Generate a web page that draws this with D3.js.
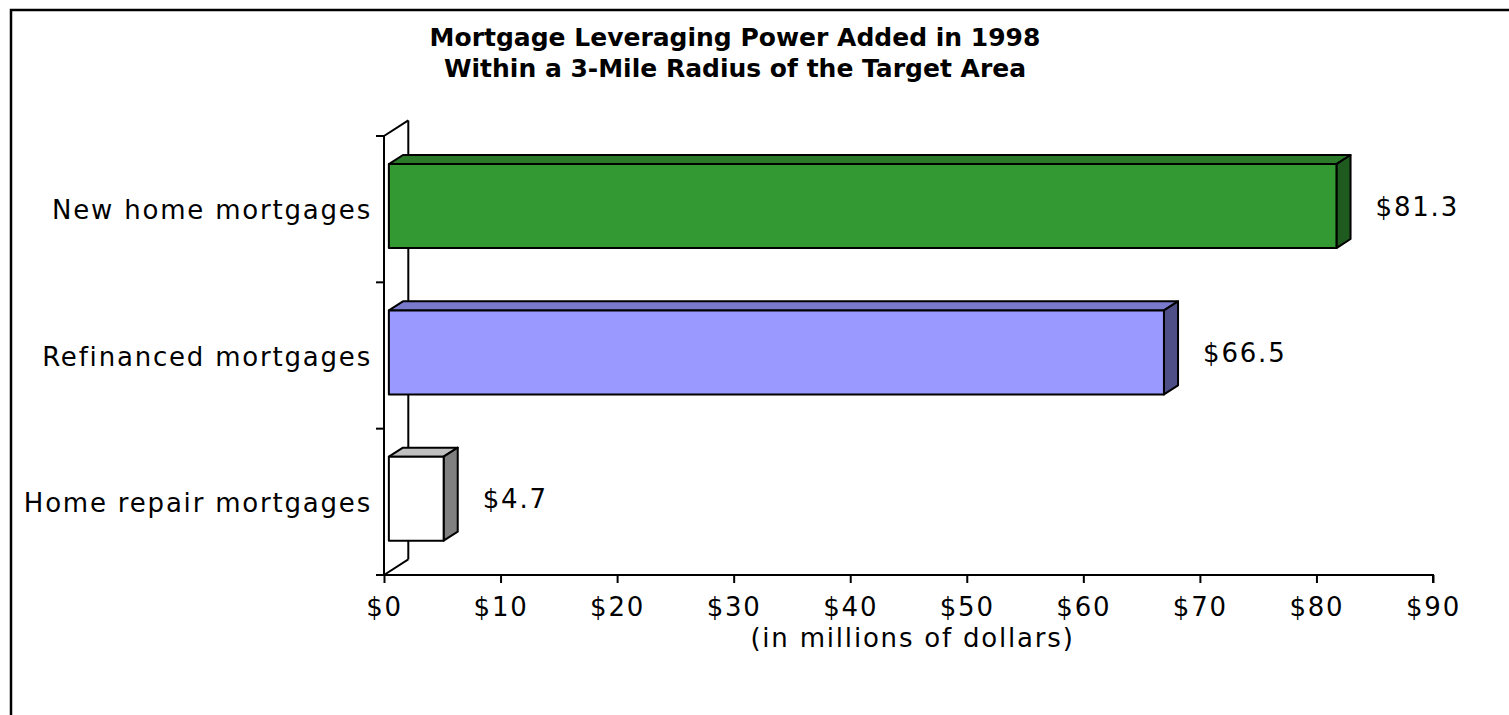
<!DOCTYPE html>
<html>
<head>
<meta charset="utf-8">
<script src="https://cdn.jsdelivr.net/npm/d3@7"></script>
<style>
  html, body { margin: 0; padding: 0; background: #fff; }
  svg { display: block; }
  text { font-family: "DejaVu Sans", Verdana, sans-serif; fill: #000; }
</style>
</head>
<body>
<svg id="chart" width="1509" height="715"></svg>
<script>
// ---- data ----
const titleLines = ["Mortgage Leveraging Power Added in 1998", "Within a 3-Mile Radius of the Target Area"];
const categories = ["New home mortgages", "Refinanced mortgages", "Home repair mortgages"];
const values = [81.3, 66.5, 4.7];
const valueLabels = ["$81.3", "$66.5", "$4.7"];
const tickValues = [0, 10, 20, 30, 40, 50, 60, 70, 80, 90];
const tickLabels = ["$0", "$10", "$20", "$30", "$40", "$50", "$60", "$70", "$80", "$90"];
const axisTitle = "(in millions of dollars)";
const frontColors = ["#339933", "#9999ff", "#ffffff"];
const topColors = ["#2a7a2a", "#7a7acc", "#c0c0c0"];
const sideColors = ["#1f5a1f", "#4f4f88", "#808080"];

// ---- layout ----
const svg = d3.select("#chart");
const W = 1509, H = 715;
const x0 = 384, x1 = 1433, yTop = 136, yBot = 575;
const depth = { dx: 24.3, dy: -15.6 };
const barDepth0 = 0.2, barDepth1 = 0.78;

const x = d3.scaleLinear().domain([0, 90]).range([x0, x1]);
const y = d3.scaleBand().domain(categories).range([yTop, yBot]).padding(0);
const barH = y.bandwidth() * 0.574;

// outer frame
svg.append("rect").attr("x", 11).attr("y", 10).attr("width", W + 20).attr("height", H + 20)
  .attr("fill", "none").attr("stroke", "#000").attr("stroke-width", 2.5);

// title
const title = svg.append("text").attr("text-anchor", "middle")
  .style("font-weight", "bold").style("font-size", "25px");
titleLines.forEach((t, i) => {
  title.append("tspan").attr("x", 735).attr("y", 46 + i * 31).text(t);
});

// 3D wall outline (left side)
const g = svg.append("g");
g.append("line").attr("x1", x0 + depth.dx).attr("y1", yTop + depth.dy)
  .attr("x2", x0 + depth.dx).attr("y2", yBot + depth.dy)
  .attr("stroke", "#000").attr("stroke-width", 2);
g.append("line").attr("x1", x0).attr("y1", yTop)
  .attr("x2", x0 + depth.dx).attr("y2", yTop + depth.dy)
  .attr("stroke", "#000").attr("stroke-width", 2);
g.append("line").attr("x1", x0).attr("y1", yBot)
  .attr("x2", x0 + depth.dx).attr("y2", yBot + depth.dy)
  .attr("stroke", "#000").attr("stroke-width", 2);

// bars
const pt = (px, py) => px + "," + py;
categories.forEach((c, i) => {
  const v = values[i];
  const ox = depth.dx * barDepth0, oy = depth.dy * barDepth0;
  const bx = depth.dx * (barDepth1 - barDepth0), by = depth.dy * (barDepth1 - barDepth0);
  const cy = y(c) + y.bandwidth() / 2 + oy;
  const xl = x(0) + ox, xr = x(v) + ox;
  const yt = cy - barH / 2, yb = cy + barH / 2;
  const bg = g.append("g").attr("stroke", "#000").attr("stroke-width", 2).attr("stroke-linejoin", "round");
  // top face
  bg.append("polygon").attr("points", [pt(xl, yt), pt(xl + bx, yt + by), pt(xr + bx, yt + by), pt(xr, yt)].join(" "))
    .attr("fill", topColors[i]);
  // side face
  bg.append("polygon").attr("points", [pt(xr, yt), pt(xr + bx, yt + by), pt(xr + bx, yb + by), pt(xr, yb)].join(" "))
    .attr("fill", sideColors[i]);
  // front face
  bg.append("rect").attr("x", xl).attr("y", yt).attr("width", xr - xl).attr("height", yb - yt)
    .attr("fill", frontColors[i]);
  // value label
  svg.append("text").attr("x", xr + bx + 25).attr("y", cy + 9.5)
    .style("font-size", "26px").style("letter-spacing", "1.8px")
    .text(valueLabels[i]);
});

// front vertical axis
svg.append("line").attr("x1", x0).attr("y1", yTop).attr("x2", x0).attr("y2", yBot)
  .attr("stroke", "#000").attr("stroke-width", 2);
// left ticks at band boundaries
const bounds = categories.map(c => y(c)).concat([yBot]);
svg.selectAll(".ytick").data(bounds).enter().append("line")
  .attr("x1", x0 - 8).attr("x2", x0).attr("y1", d => d).attr("y2", d => d)
  .attr("stroke", "#000").attr("stroke-width", 2);

// category labels
svg.selectAll(".cat").data(categories).enter().append("text")
  .attr("x", 372).attr("y", d => y(d) + y.bandwidth() / 2 + 10)
  .attr("text-anchor", "end")
  .style("font-size", "26px").style("letter-spacing", "1.8px")
  .text(d => d);

// bottom axis
const xAxis = d3.axisBottom(x).tickValues(tickValues).tickSize(8).tickPadding(0)
  .tickFormat((d, i) => tickLabels[i]);
const ax = svg.append("g").attr("transform", `translate(0,${yBot})`).call(xAxis);
ax.select(".domain").attr("stroke", "#000").attr("stroke-width", 2).attr("d", `M${x0},0H${x1}V8`);
ax.selectAll(".tick line").attr("stroke", "#000").attr("stroke-width", 2);
ax.selectAll(".tick text").attr("y", 41).attr("dy", null)
  .style("font-size", "26px").style("letter-spacing", "1.8px")
  .style("font-family", '"DejaVu Sans", Verdana, sans-serif').attr("fill", "#000");

// axis title
svg.append("text").attr("x", (x0 + x1) / 2 + 4).attr("y", 647).attr("text-anchor", "middle")
  .style("font-size", "26px").style("letter-spacing", "1.8px")
  .text(axisTitle);
</script>
</body>
</html>
